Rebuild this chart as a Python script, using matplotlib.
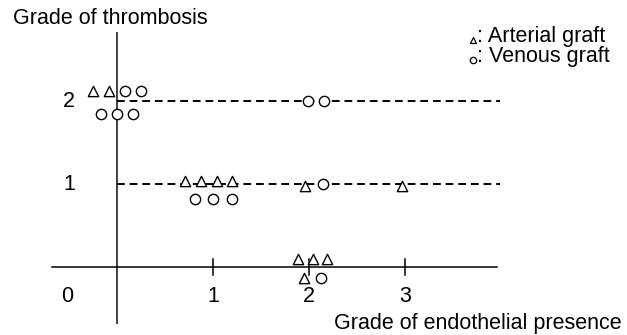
import matplotlib
matplotlib.use("Agg")
import matplotlib.pyplot as plt

plt.rcParams['font.family'] = ['Liberation Sans', 'DejaVu Sans']

# data points (grade of endothelial presence, grade of thrombosis), jittered as drawn
art_x = [-0.25, -0.08, 0.71, 0.87, 1.04, 1.20, 1.96, 2.97, 1.89, 2.04, 2.19, 1.95]
art_y = [2.12, 2.12, 1.04, 1.04, 1.04, 1.04, 0.98, 0.98, 0.10, 0.10, 0.10, -0.13]
ven_x = [0.08, 0.25, -0.17, 0.0, 0.17, 1.99, 2.16, 0.81, 1.00, 1.20, 2.15, 2.12]
ven_y = [2.12, 2.12, 1.84, 1.84, 1.84, 2.00, 2.00, 0.82, 0.82, 0.82, 1.00, -0.13]

x_ticks = [1, 2, 3]
y_levels = [1, 2]

fs = 15.5

fig = plt.figure(figsize=(6.27, 3.35), dpi=100)
ax = fig.add_axes([0, 0, 1, 1])
ax.set_xlim(-1.219, 5.3125)
ax.set_ylim(-0.819, 3.217)
ax.axis('off')

# axes lines
ax.plot([0, 0], [-0.675, 2.82], color='#333333', lw=1.3)
ax.plot([-0.677, 3.96], [0, 0], color='black', lw=1.1)
for xt in x_ticks:
    ax.plot([xt, xt], [-0.1, 0.1], color='black', lw=1.1)
    ax.text(xt, -0.36, str(xt), ha='center', va='center', fontsize=fs)
for yl in y_levels:
    ax.plot([0, 3.99], [yl, yl], color='black', lw=1.4, ls=(0, (4, 2.5)))
    ax.text(-0.5, yl, str(yl), ha='center', va='center', fontsize=fs)
ax.text(-0.52, -0.36, '0', ha='center', va='center', fontsize=fs)

ax.scatter(art_x, art_y, marker='^', s=55, facecolors='white', edgecolors='black', linewidths=1, zorder=3)
ax.scatter(ven_x, ven_y, marker='o', s=55, facecolors='white', edgecolors='black', linewidths=1, zorder=3)

# titles
fig.text(13 / 627, 1 - 18 / 335, 'Grade of thrombosis', ha='left', va='center', fontsize=fs)
fig.text(622 / 627, 1 - 323 / 335, 'Grade of endothelial presence', ha='right', va='center', fontsize=fs)

# legend: small marker glyphs plus text
fig.add_artist(plt.Line2D([473 / 627], [1 - 39.5 / 335], marker='^', markersize=4.6, mfc='white',
                          mec='black', mew=0.9, transform=fig.transFigure))
fig.add_artist(plt.Line2D([473 / 627], [1 - 59.5 / 335], marker='o', markersize=4.6, mfc='white',
                          mec='black', mew=0.9, transform=fig.transFigure))
fig.text(477 / 627, 1 - 42 / 335, ': Arterial graft', ha='left', va='baseline', fontsize=fs)
fig.text(477 / 627, 1 - 62 / 335, ': Venous graft', ha='left', va='baseline', fontsize=fs)

fig.savefig('out.png', dpi=100)
